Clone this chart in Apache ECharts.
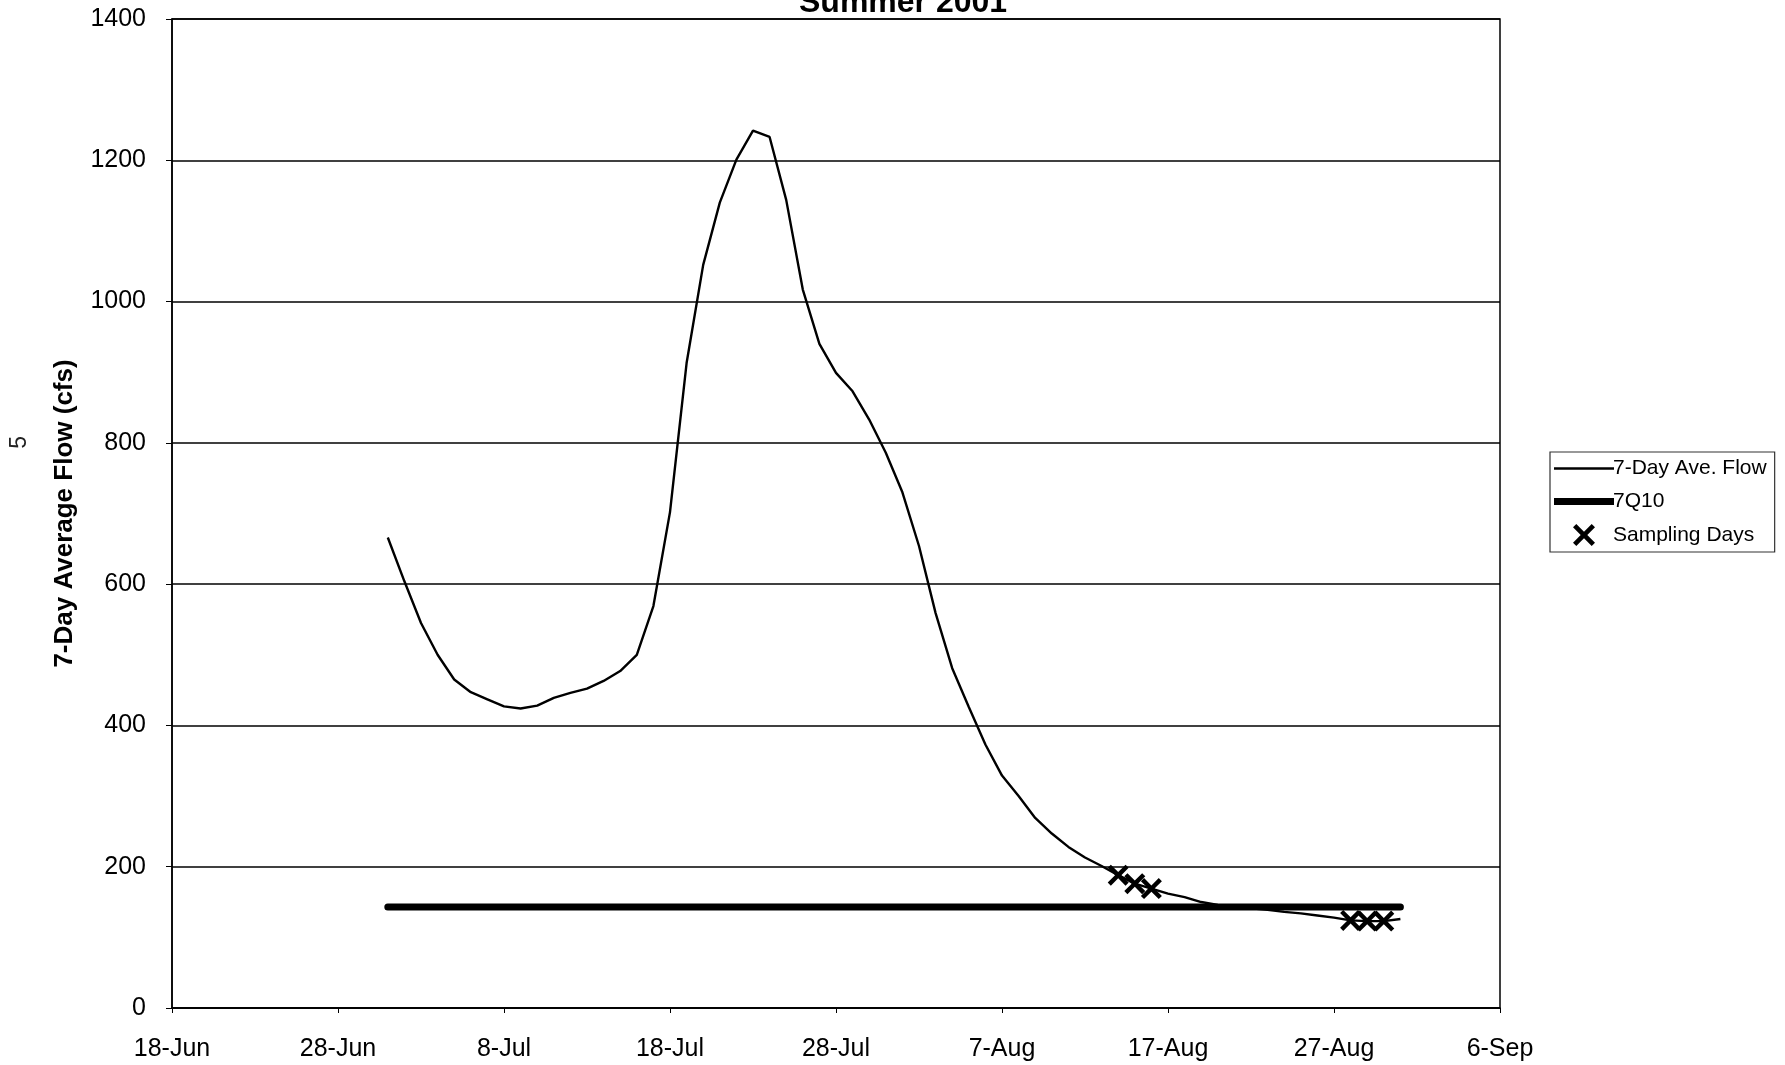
<!DOCTYPE html>
<html>
<head>
<meta charset="utf-8">
<script src="https://cdn.jsdelivr.net/npm/echarts@6/dist/echarts.min.js"></script>
<style>html,body{margin:0;padding:0;background:#fff;}#c{width:1785px;height:1065px;}</style>
</head>
<body>
<div id="c"></div>
<script>
// ---- data ----
const axisStartDate = '2001-06-18';
const tickLabels = ['18-Jun','28-Jun','8-Jul','18-Jul','28-Jul','7-Aug','17-Aug','27-Aug','6-Sep'];
const flowFirstDate = '2001-07-01';
const flowValues = [666,604,545,500,465,447,437,427,424,428,439,446,452,463,477,500,569,
  702,913,1052,1140,1201,1242,1233,1144,1017,940,899,873,833,786,730,654,559,481,426,
  373,329,300,269,247,228,213,201,188,176,169,162,157,150,146,143,141,139,136,134,131,128,
  124,123,123,126];
const q710Dates = ['2001-07-01','2001-08-31'];
const q710Value = 143;
const samplingDates = ['2001-08-14','2001-08-15','2001-08-16','2001-08-28','2001-08-29','2001-08-30'];
const samplingValues = [188,176,169,124,123,123];
const seriesNames = ['7-Day Ave. Flow','7Q10','Sampling Days'];

// ---- helpers ----
const DAY = 86400000;
const t0 = Date.parse(axisStartDate + 'T00:00:00Z');
const dayOf = s => (Date.parse(s + 'T00:00:00Z') - t0) / DAY;
const flowStart = dayOf(flowFirstDate);
const flowData = flowValues.map((v, i) => [flowStart + i, v]);
const q710Data = [];
for (let d = dayOf(q710Dates[0]); d <= dayOf(q710Dates[1]); d++) q710Data.push([d, q710Value]);
const sampData = samplingDates.map((s, i) => [dayOf(s), samplingValues[i]]);

const FONT = 'Liberation Sans, Arial, sans-serif';
const xPath = 'path://M0,1.5L1.5,0L5,3.5L8.5,0L10,1.5L6.5,5L10,8.5L8.5,10L5,6.5L1.5,10L0,8.5L3.5,5Z';

const chart = echarts.init(document.getElementById('c'), null, {renderer: 'canvas'});
chart.setOption({
  backgroundColor: '#fff',
  animation: false,
  title: {
    text: 'Summer 2001', left: 794, top: -18,
    textStyle: {fontFamily: FONT, fontSize: 32, fontWeight: 'bold', color: '#000'}
  },
  graphic: [{
    type: 'text', left: 8, top: 436, rotation: Math.PI / 2,
    style: {text: '5', font: '23px Liberation Sans', fill: '#222'}
  }],
  grid: {left: 172, right: 285, top: 19, bottom: 57, show: true, borderColor: '#000', borderWidth: 1.5},
  legend: {
    orient: 'vertical', left: 1550, top: 452, width: 224,
    padding: [6, 8, 6, 4], itemGap: 12, itemWidth: 60, itemHeight: 22,
    borderColor: '#333', borderWidth: 1.2, backgroundColor: '#fff',
    textStyle: {fontFamily: FONT, fontSize: 21, color: '#000', padding: [0, 0, 0, -6]},
    data: [
      {name: seriesNames[0], icon: 'path://M0,0L60,0L60,2.4L0,2.4Z'},
      {name: seriesNames[1], icon: 'path://M0,0L60,0L60,7L0,7Z'},
      {name: seriesNames[2]}
    ]
  },
  xAxis: {
    type: 'value', min: 0, max: 80, interval: 10,
    axisLine: {show: true, lineStyle: {color: '#000', width: 1.5}},
    axisTick: {show: true, length: 5, lineStyle: {color: '#000'}},
    splitLine: {show: false},
    axisLabel: {
      margin: 29, fontFamily: FONT, fontSize: 25, color: '#000',
      formatter: (v) => tickLabels[Math.round(v / 10)]
    }
  },
  yAxis: {
    type: 'value', min: 0, max: 1400, interval: 200,
    name: '7-Day Average Flow (cfs)', nameLocation: 'middle', nameGap: 94,
    nameTextStyle: {fontFamily: FONT, fontSize: 26, fontWeight: 'bold', color: '#000'},
    axisLine: {show: true, lineStyle: {color: '#000', width: 1.5}},
    axisTick: {show: true, length: 6, lineStyle: {color: '#000'}},
    splitLine: {show: true, lineStyle: {color: '#000', width: 1.5}},
    axisLabel: {margin: 26, fontFamily: FONT, fontSize: 25, color: '#000', formatter: (v) => String(v)}
  },
  series: [
    {
      name: seriesNames[0], type: 'line', data: flowData, showSymbol: false, symbol: 'none',
      lineStyle: {color: '#000', width: 2.4}, itemStyle: {color: '#000'}, z: 3
    },
    {
      name: seriesNames[1], type: 'line', data: q710Data, showSymbol: false, symbol: 'none',
      lineStyle: {color: '#000', width: 7, cap: 'round'}, itemStyle: {color: '#000'}, z: 2
    },
    {
      name: seriesNames[2], type: 'scatter', data: sampData, symbol: xPath, symbolSize: 21,
      itemStyle: {color: '#000', opacity: 1}, z: 4
    }
  ]
});
</script>
</body>
</html>
